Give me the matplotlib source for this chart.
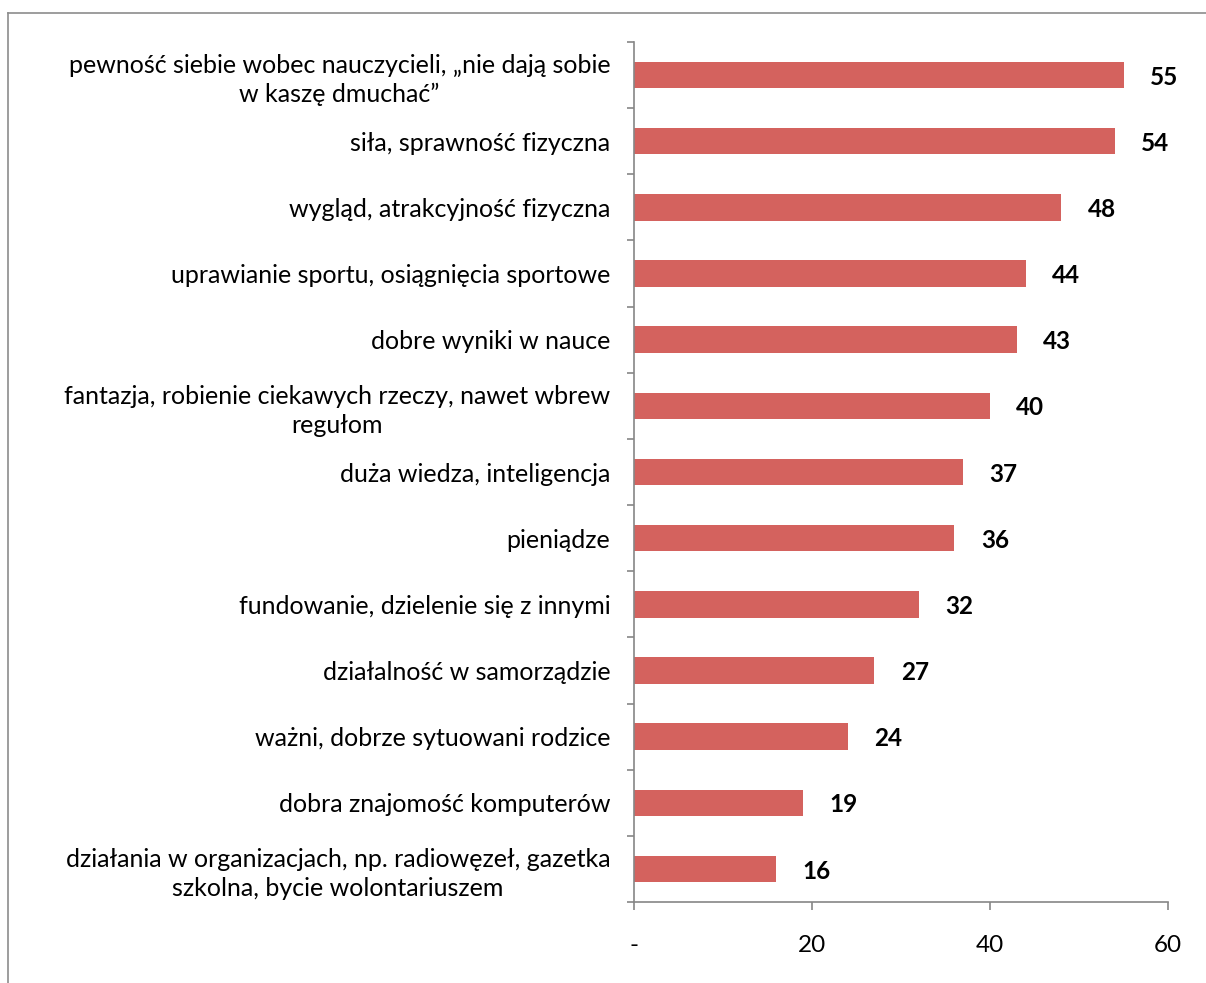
import matplotlib.pyplot as plt
import numpy as np
from matplotlib.lines import Line2D

plt.rcParams['font.family'] = ['Lato', 'DejaVu Sans']

kategorie = [
    "pewność siebie wobec nauczycieli, „nie dają sobie\nw kaszę dmuchać”",
    "siła, sprawność fizyczna",
    "wygląd, atrakcyjność fizyczna",
    "uprawianie sportu, osiągnięcia sportowe",
    "dobre wyniki w nauce",
    "fantazja, robienie ciekawych rzeczy, nawet wbrew\nregułom",
    "duża wiedza, inteligencja",
    "pieniądze",
    "fundowanie, dzielenie się z innymi",
    "działalność w samorządzie",
    "ważni, dobrze sytuowani rodzice",
    "dobra znajomość komputerów",
    "działania w organizacjach, np. radiowęzeł, gazetka\nszkolna, bycie wolontariuszem",
]
wartosci = [55, 54, 48, 44, 43, 40, 37, 36, 32, 27, 24, 19, 16]
x_ticki = [0, 20, 40, 60]
x_etykiety = ["-", "20", "40", "60"]

kolor_slupka = "#D4625E"
kolor_osi = "#868686"

fig = plt.figure(figsize=(12.06, 9.83), dpi=100)
ax = fig.add_axes([634 / 1206, 1 - 902 / 983, 534 / 1206, 860 / 983])

y = np.arange(len(kategorie))
ax.barh(y, wartosci, height=0.4, color=kolor_slupka, edgecolor="none")

# etykiety wartosci przy koncach slupkow
for yi, v in zip(y, wartosci):
    ax.annotate(str(v), (v, yi), xytext=(19, -1.5), textcoords="offset points",
                ha="left", va="center", fontsize=17.5, fontweight="bold", color="black")

ax.set_xlim(0, 60)
ax.set_ylim(len(kategorie) - 0.5, -0.5)

ax.set_yticks(y)
ax.set_yticklabels(kategorie, multialignment="center", fontsize=18, linespacing=1.3)
ax.set_yticks(np.arange(-0.5, len(kategorie)), minor=True)
ax.tick_params(axis="y", which="major", length=0, pad=17)
ax.tick_params(axis="y", which="minor", length=5, width=1.2, color=kolor_osi, direction="out")

ax.set_xticks(x_ticki)
ax.set_xticklabels(x_etykiety, fontsize=17.5)
ax.tick_params(axis="x", length=6, width=1.2, color=kolor_osi, direction="out", pad=18)

for s in ["top", "right"]:
    ax.spines[s].set_visible(False)
for s in ["left", "bottom"]:
    ax.spines[s].set_color(kolor_osi)
    ax.spines[s].set_linewidth(1.2)

# ramka wykresu (gorna i lewa krawedz)
fig.add_artist(Line2D([8 / 1206, 1], [1 - 13 / 983, 1 - 13 / 983], transform=fig.transFigure,
                      color="#8C8C8C", linewidth=1.2))
fig.add_artist(Line2D([8 / 1206, 8 / 1206], [0, 1 - 13 / 983], transform=fig.transFigure,
                      color="#8C8C8C", linewidth=1.2))

fig.savefig("out.png", dpi=100)
